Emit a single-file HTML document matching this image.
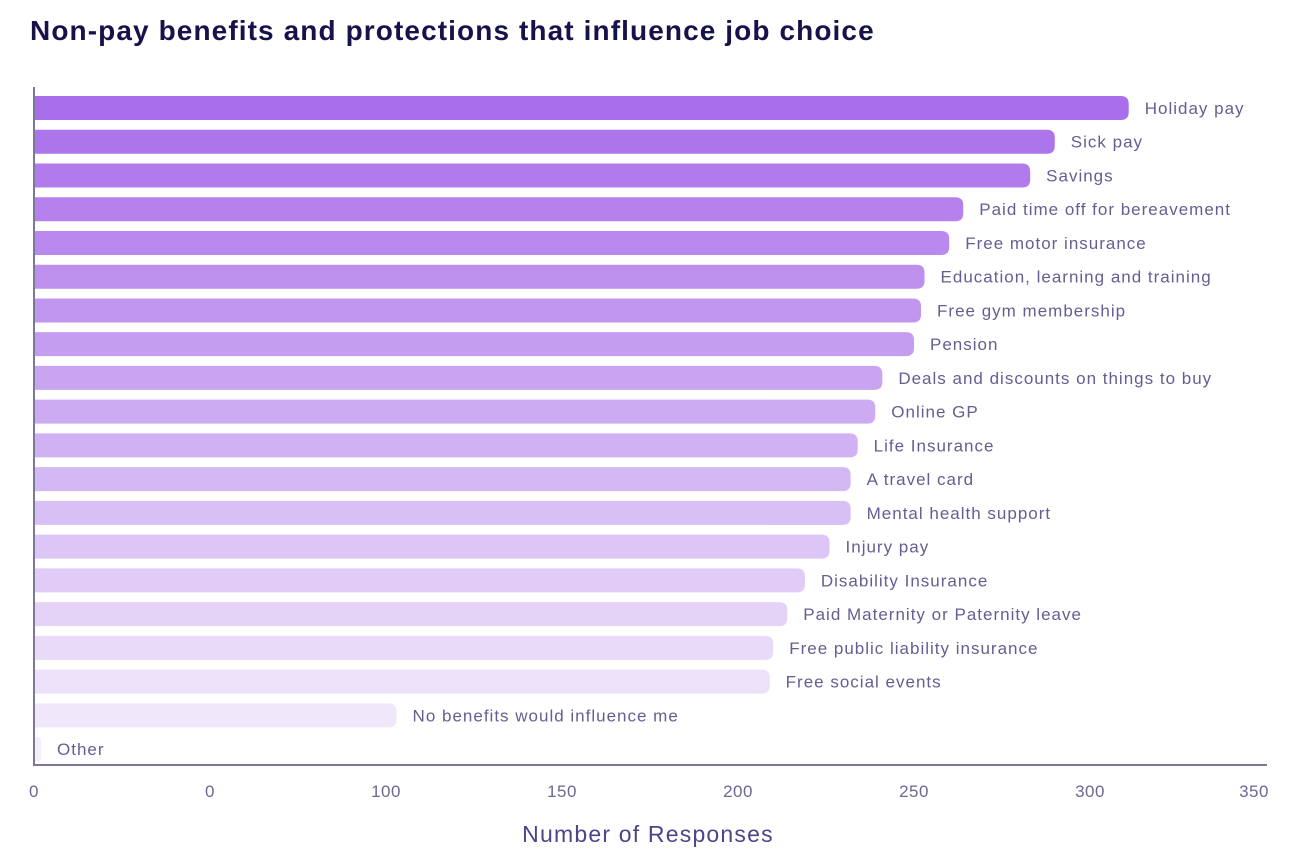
<!DOCTYPE html>
<html><head><meta charset="utf-8"><style>
body{margin:0;background:#fff;width:1292px;height:856px;overflow:hidden;font-family:"Liberation Sans",sans-serif}
</style></head><body>
<svg id="c" width="1292" height="856" xmlns="http://www.w3.org/2000/svg">
<text x="30" y="40" font-size="28" font-weight="bold" letter-spacing="1.1" fill="#16124a">Non-pay benefits and protections that influence job choice</text>
<g id="bars"></g>
<line x1="34" y1="87" x2="34" y2="765" stroke="#7d7799" stroke-width="2"/>
<line x1="33" y1="765" x2="1267" y2="765" stroke="#7d7799" stroke-width="2"/>
<g id="ticks"></g>
<text x="648" y="842" text-anchor="middle" font-size="23" letter-spacing="1.2" fill="#4e4488">Number of Responses</text>
</svg>
<script>
const categories=["Holiday pay","Sick pay","Savings","Paid time off for bereavement","Free motor insurance","Education, learning and training","Free gym membership","Pension","Deals and discounts on things to buy","Online GP","Life Insurance","A travel card","Mental health support","Injury pay","Disability Insurance","Paid Maternity or Paternity leave","Free public liability insurance","Free social events","No benefits would influence me","Other"];
const values=[311,290,283,264,260,253,252,250,241,239,234,232,232,226,219,214,210,209,103,2];
const tickValues=[0,50,100,150,200,250,300,350];
const tickLabels=["0","0","100","150","200","250","300","350"];
const NS="http://www.w3.org/2000/svg";
const x=v=>34+v*3.52;
const y=i=>108+i*33.74;
const bars=document.getElementById('bars');
const c0=[169,110,234],c1=[244,238,251];
values.forEach((v,i)=>{
  const t=i/(values.length-1);
  const col=`rgb(${c0.map((a,k)=>Math.round(a+(c1[k]-a)*t)).join(',')})`;
  const w=x(v)-34, h=24, top=y(i)-12, r=Math.min(8,w/2);
  const p=document.createElementNS(NS,'path');
  p.setAttribute('d',`M34 ${top}H${34+w-r}Q${34+w} ${top} ${34+w} ${top+r}V${top+h-r}Q${34+w} ${top+h} ${34+w-r} ${top+h}H34Z`);
  p.setAttribute('fill',col);
  
  
  bars.appendChild(p);
  const tx=document.createElementNS(NS,'text');
  tx.setAttribute('x',x(v)+16);tx.setAttribute('y',y(i)+6);
  tx.setAttribute('font-size','17');tx.setAttribute('letter-spacing','1');tx.setAttribute('fill','#675d92');
  tx.textContent=categories[i];
  
  
  bars.appendChild(tx);
});
const ticks=document.getElementById('ticks');
tickValues.forEach((v,i)=>{
  const tx=document.createElementNS(NS,'text');
  tx.setAttribute('x',Math.min(x(v),1254));tx.setAttribute('y',797);
  tx.setAttribute('text-anchor','middle');tx.setAttribute('font-size','17');tx.setAttribute('letter-spacing','0.5');tx.setAttribute('fill','#6e6796');
  tx.textContent=tickLabels[i];
  
  
  ticks.appendChild(tx);
});
</script>
</body></html>
